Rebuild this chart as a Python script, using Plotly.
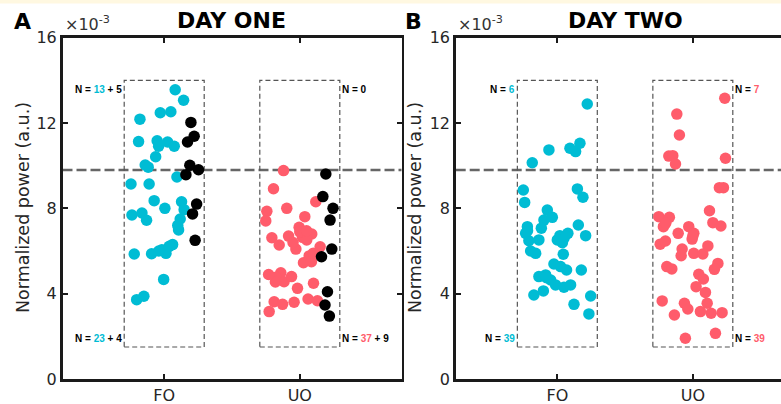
import plotly.graph_objects as go

# ---------------- data (values in units of 1e-3) ----------------
categories = ["FO", "UO"]
threshold = 9.8

# DAY ONE, FO
d1_fo_c_x = [1.081, 1.143, 0.971, 1.049, 0.821, 0.811, 0.948, 0.959, 1.025, 1.074, 0.937, 0.860, 0.882,
             1.094, 0.755, 0.889, 0.926, 1.005, 1.128, 1.147, 0.762, 0.836, 0.870, 1.118, 1.106, 0.779,
             0.907, 0.983, 1.013, 1.062, 1.037, 0.996, 0.797, 0.850, 1.100, 0.960]
d1_fo_c_y = [13.56, 13.07, 12.48, 12.53, 12.18, 11.13, 11.17, 10.91, 11.11, 10.91, 10.42, 10.03, 9.93,
             9.47, 9.14, 9.14, 8.36, 8.00, 8.31, 7.94, 7.69, 7.78, 7.44, 7.50, 6.99, 5.86,
             5.87, 6.06, 5.89, 6.30, 6.22, 4.67, 3.72, 3.88, 7.20, 6.00]
d1_fo_k_x = [1.197, 1.221, 1.172, 1.189, 1.253, 1.160, 1.239, 1.209, 1.228]
d1_fo_k_y = [12.03, 11.38, 11.11, 10.02, 9.81, 9.58, 8.20, 7.74, 6.50]

# DAY ONE, UO
d1_uo_r_x = [1.880, 1.806, 1.757, 1.749, 1.904, 2.118, 2.037, 1.995, 1.917, 1.794, 1.848, 1.971, 2.020,
             2.088, 2.051, 2.150, 2.069, 2.027, 2.086, 1.860, 1.823, 1.884, 1.939, 1.983, 2.101, 1.811,
             1.873, 1.958, 2.061, 2.130, 1.774, 2.000, 1.950, 2.100, 1.820, 2.050, 1.770]
d1_uo_r_y = [9.77, 8.92, 7.86, 7.41, 8.00, 8.31, 7.61, 7.11, 6.70, 6.62, 6.28, 6.09, 6.64,
             6.80, 6.52, 6.20, 5.77, 5.45, 5.50, 4.98, 4.77, 4.56, 4.80, 4.25, 4.49, 3.62,
             3.50, 3.60, 3.75, 3.67, 3.16, 6.90, 6.40, 5.90, 4.55, 6.95, 4.90]
d1_uo_k_x = [2.192, 2.170, 2.245, 2.223, 2.236, 2.160, 2.204, 2.186, 2.218]
d1_uo_k_y = [9.61, 8.55, 8.00, 7.45, 6.09, 5.73, 4.09, 3.47, 2.95]

# DAY TWO, FO
d2_fo_c_x = [1.221, 0.938, 1.093, 1.135, 1.167, 0.815,
             0.749, 0.759, 1.148, 1.189, 0.926, 0.963, 0.901, 0.882, 0.779, 0.766, 0.790, 0.864,
             0.803, 0.840, 1.019, 1.078, 1.000, 1.037, 1.155, 1.209, 1.044, 0.975, 1.024, 1.068,
             1.177, 0.864, 0.914, 0.951, 0.987, 1.049, 1.098, 0.827, 0.897, 1.246, 1.123, 1.233,
             0.780, 1.050, 0.920]
d2_fo_c_y = [12.89, 10.74, 10.82, 10.66, 11.05, 10.14,
             8.86, 8.28, 8.91, 8.52, 7.92, 7.58, 7.45, 7.07, 7.14, 6.83, 6.48, 6.52,
             6.00, 5.89, 6.72, 6.83, 6.52, 6.39, 7.22, 6.72, 5.85, 5.39, 5.27, 5.11,
             5.11, 4.80, 4.88, 4.64, 4.41, 4.30, 4.41, 3.94, 4.13, 3.89, 3.50, 3.05,
             6.95, 6.60, 4.75]

# DAY TWO, UO
d2_uo_r_x = [2.236, 1.882, 1.901, 1.823, 1.852, 1.872, 2.241,
             2.196, 2.226, 2.123, 1.749, 1.827, 1.783, 2.148, 2.207, 1.970, 1.892, 2.007, 1.995,
             1.759, 1.798, 1.921, 1.914, 2.007, 2.074, 2.111, 1.808, 1.845, 2.185, 2.159, 2.044,
             2.078, 2.024, 2.093, 1.774, 1.938, 1.963, 2.106, 2.056, 2.135, 2.216, 1.864, 2.167,
             1.945, 2.000, 1.800]
d2_uo_r_y = [13.16, 12.42, 11.44, 10.45, 10.47, 10.08, 10.35,
             8.97, 8.97, 7.89, 7.61, 7.58, 7.14, 7.33, 7.17, 7.14, 6.83, 6.83, 6.56,
             6.32, 6.47, 6.09, 5.78, 5.89, 5.86, 6.24, 5.27, 5.16, 5.42, 5.14, 4.91,
             4.69, 4.33, 4.06, 3.66, 3.55, 3.28, 3.55, 3.16, 3.08, 3.11, 3.00, 2.14,
             1.91, 6.70, 7.30]

box_half = 0.295
box_lo, box_hi = 1.5, 14.0

CYAN = "#00BCD4"
RED = "#FF5C6B"
BLACK = "#000000"

# ---------------- layout geometry ----------------
W, H = 781, 404
def px(x):
    return x / W
def py(y):
    return 1 - y / H

fig = go.Figure()
msize = 11.5

def add_pts(xs, ys, color, xa, ya):
    fig.add_trace(go.Scatter(x=xs, y=ys, mode="markers",
                             marker=dict(color=color, size=msize, line=dict(width=0)),
                             xaxis=xa, yaxis=ya, showlegend=False, hoverinfo="skip"))

add_pts(d1_fo_c_x, d1_fo_c_y, CYAN, "x", "y")
add_pts(d1_fo_k_x, d1_fo_k_y, BLACK, "x", "y")
add_pts(d1_uo_r_x, d1_uo_r_y, RED, "x", "y")
add_pts(d1_uo_k_x, d1_uo_k_y, BLACK, "x", "y")
add_pts(d2_fo_c_x, d2_fo_c_y, CYAN, "x2", "y2")
add_pts(d2_uo_r_x, d2_uo_r_y, RED, "x2", "y2")

axis_color = "#1a1a1a"
tick_font = dict(family="DejaVu Sans", size=16, color="#262626")
common_x = dict(tickvals=[1, 2], ticktext=categories, showline=True, linewidth=2.5,
                linecolor=axis_color, ticks="inside", ticklen=5, tickwidth=2,
                tickcolor=axis_color, mirror="ticks", showgrid=False, zeroline=False,
                tickfont=tick_font, fixedrange=True, automargin=False)
common_y = dict(range=[0, 16], tickvals=[0, 4, 8, 12, 16], showline=True, linewidth=2.5,
                linecolor=axis_color, ticks="inside", ticklen=5, tickwidth=2,
                tickcolor=axis_color, showgrid=False, zeroline=False,
                tickfont=tick_font, fixedrange=True, automargin=False)

yd = [py(379), py(37.7)]
fig.update_layout(
    template="none",
    width=W, height=H, autosize=False,
    margin=dict(l=0, r=0, t=0, b=0, pad=0),
    paper_bgcolor="white", plot_bgcolor="white",
    font=dict(family="DejaVu Sans"),
    xaxis=dict(domain=[px(62.5), px(401.5)], range=[0.25, 2.75], anchor="y", **common_x),
    yaxis=dict(domain=yd, anchor="x", mirror="ticks", **common_y),
    xaxis2=dict(domain=[px(455.7), 1.0], range=[0.25, 0.25 + (781 - 455.7) / 135.5], anchor="y2", **common_x),
    yaxis2=dict(domain=yd, anchor="x2", mirror=False, **common_y),
)

shapes = []
for xa, ya in (("x", "y"), ("x2", "y2")):
    shapes.append(dict(type="line", xref=f"{xa} domain", yref=ya, x0=0, x1=1, y0=threshold, y1=threshold,
                       line=dict(color="#666666", width=2.5, dash="10px,4px"), layer="below"))
    for c in (1, 2):
        shapes.append(dict(type="rect", xref=xa, yref=ya, x0=c - box_half, x1=c + box_half,
                           y0=box_lo, y1=box_hi, line=dict(color="#555555", width=1.2, dash="5px,3px"),
                           layer="below"))
# cream strip at very top
shapes.append(dict(type="rect", xref="paper", yref="paper", x0=0, x1=1, y0=py(3.5), y1=1,
                   fillcolor="#FFF8E1", line=dict(width=0), layer="below"))
fig.update_layout(shapes=shapes)

ann = []
def lab(text, x, y, xa, ya, anchor):
    ann.append(dict(text=text, x=x, y=y, xref=xa, yref=ya, xanchor=anchor, yanchor="middle",
                    showarrow=False, font=dict(family="Liberation Sans", size=10, color="black")))

def col(t, c):
    return f"<span style='color:{c}'>{t}</span>"

n_top_y, n_bot_y = 13.56, 1.92
lab("<b>N = " + col("13", CYAN) + " + 5</b>", 1 - box_half, n_top_y, "x", "y", "right")
lab("<b>N = " + col("23", CYAN) + " + 4</b>", 1 - box_half, n_bot_y, "x", "y", "right")
lab("<b>N = 0</b>", 2 + box_half, n_top_y, "x", "y", "left")
lab("<b>N = " + col("37", RED) + " + 9</b>", 2 + box_half, n_bot_y, "x", "y", "left")
lab("<b>N = " + col("6", CYAN) + "</b>", 1 - box_half, n_top_y, "x2", "y2", "right")
lab("<b>N = " + col("39", CYAN) + "</b>", 1 - box_half, n_bot_y, "x2", "y2", "right")
lab("<b>N = " + col("7", RED) + "</b>", 2 + box_half, n_top_y, "x2", "y2", "left")
lab("<b>N = " + col("39", RED) + "</b>", 2 + box_half, n_bot_y, "x2", "y2", "left")

for title, cx in (("DAY ONE", 231.7), ("DAY TWO", 625.0)):
    ann.append(dict(text=f"<b>{title}</b>", x=px(cx), y=py(20), xref="paper", yref="paper",
                    xanchor="center", yanchor="middle", showarrow=False,
                    font=dict(family="DejaVu Sans", size=22, color="black")))
for letter, cx in (("A", 22.5), ("B", 413.5)):
    ann.append(dict(text=f"<b>{letter}</b>", x=px(cx), y=py(21), xref="paper", yref="paper",
                    xanchor="center", yanchor="middle", showarrow=False,
                    font=dict(family="DejaVu Sans", size=22, color="black")))
for lx in (62.5, 455.7):
    ann.append(dict(text="×10<sup>-3</sup>", x=px(lx), y=py(36), xref="paper", yref="paper",
                    xanchor="left", yanchor="bottom", showarrow=False,
                    font=dict(family="DejaVu Sans", size=16, color="#333333")))
for cx in (23.0, 415.0):
    ann.append(dict(text="Normalized power (a.u.)", x=px(cx), y=py(208), xref="paper", yref="paper",
                    xanchor="center", yanchor="middle", textangle=-90, showarrow=False,
                    font=dict(family="DejaVu Sans", size=17.5, color="#262626")))
fig.update_layout(annotations=ann)

fig.write_html("out.html", config={"displayModeBar": False, "staticPlot": True},
               post_script="document.body.style.margin='0';document.body.style.overflow='hidden';")
